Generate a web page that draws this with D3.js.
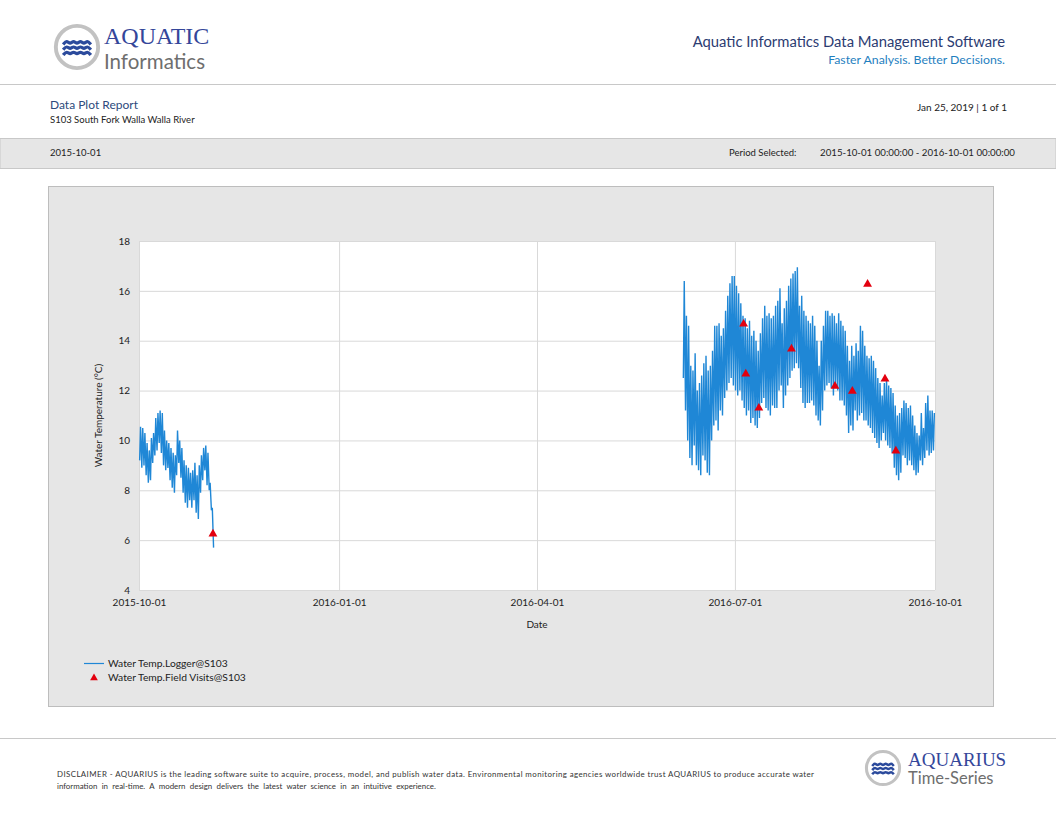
<!DOCTYPE html>
<html>
<head>
<meta charset="utf-8">
<script src="https://cdn.jsdelivr.net/npm/d3@7"></script>
<style>
  body { margin: 0; background: #fff; }
  text { font-family: Lato, "Open Sans", sans-serif; }
</style>
</head>
<body>
<div id="report"></div>
<script>
// ---- data ----
var xTickLabels = ["2015-10-01", "2016-01-01", "2016-04-01", "2016-07-01", "2016-10-01"];
var yTicks = [4, 6, 8, 10, 12, 14, 16, 18];

// logger, first deployment: daily low (morning) and daily high (afternoon)
var seg1Start = "2015-10-01";
var seg1Min = [9.2, 8.9, 9.0, 8.6, 8.3, 8.4, 9.1, 9.4, 9.6, 9.9, 9.5, 9.0, 8.8, 8.9, 8.4, 8.1, 7.9,
               8.6, 9.1, 8.5, 7.9, 7.5, 7.3, 7.6, 7.3, 7.6, 7.1, 6.85, 7.9, 8.4, 8.8, 8.2, 8.0, 7.2, 5.7];
var seg1Max = [10.55, 10.5, 10.3, 9.9, 9.6, 10.1, 10.3, 10.9, 11.1, 11.2, 11.1, 10.4, 10.0, 9.9, 9.7, 9.5, 9.4,
               10.4, 10.0, 9.7, 9.2, 9.0, 8.9, 8.7, 8.8, 9.1, 8.6, 9.0, 9.4, 9.7, 9.8, 9.5, 8.3, 7.3];

// logger, second deployment
var seg2Start = "2016-06-07";
var seg2Min = [12.5, 11.2, 10.0, 9.3, 9.0, 9.8, 9.0, 8.8, 8.6, 9.4, 9.2, 8.7, 8.6, 10.0, 10.6, 10.8, 10.4, 11.2, 11.0, 11.7,
               12.0, 12.3, 12.5, 12.2, 12.0, 11.8, 12.0, 11.6, 11.3, 11.0, 11.2, 10.7, 10.9, 10.6, 10.5, 10.9, 11.5, 11.7, 11.3, 11.2,
               11.0, 11.4, 11.3, 11.3, 12.0, 12.2, 11.3, 11.8, 12.2, 12.5, 12.8, 12.9, 13.1, 12.9, 12.1, 11.5, 11.3, 11.5, 11.5, 11.6,
               11.4, 11.0, 10.8, 10.6, 11.2, 12.0, 12.2, 12.3, 12.1, 11.8, 12.1, 12.0, 11.6, 11.6, 11.4, 11.0, 10.3, 10.6, 10.4, 11.2,
               10.8, 11.0, 11.1, 10.8, 10.8, 10.6, 10.5, 10.3, 10.1, 9.9, 9.7, 10.0, 10.3, 10.0, 9.8, 9.7, 9.5, 8.9, 8.6, 8.4,
               8.7, 9.4, 9.3, 9.0, 9.2, 9.0, 8.8, 8.6, 8.7, 9.2, 9.0, 9.3, 9.6, 9.4, 9.5, 9.6];
var seg2Max = [16.4, 15.0, 14.6, 13.0, 12.8, 13.5, 12.0, 12.3, 12.6, 13.1, 13.4, 12.8, 13.0, 13.6, 14.6, 14.6, 14.7, 14.2, 14.5, 15.2,
               15.8, 16.3, 16.6, 16.6, 16.2, 15.9, 15.5, 15.0, 14.9, 14.5, 14.8, 14.2, 14.4, 14.0, 13.6, 14.3, 14.9, 15.4, 15.0, 15.1,
               14.9, 15.0, 15.4, 15.6, 16.1, 14.7, 15.3, 15.6, 16.2, 16.5, 16.7, 16.8, 16.95, 15.4, 15.8, 15.2, 15.0, 14.8, 14.7, 15.0,
               14.6, 14.0, 13.0, 14.0, 14.6, 15.2, 15.2, 15.0, 15.1, 15.0, 14.7, 15.1, 14.8, 14.6, 14.4, 13.8, 13.2, 13.8, 13.4, 13.9,
               13.6, 14.6, 14.4, 13.8, 13.4, 13.3, 13.4, 13.2, 12.9, 12.5, 12.3, 11.8, 12.3, 12.5, 12.2, 12.1, 11.9, 11.4, 11.0, 11.1,
               11.3, 11.6, 11.5, 11.3, 11.4, 11.0, 10.6, 10.3, 10.2, 11.1, 10.5, 11.5, 11.8, 11.2, 11.2, 11.1];

// field visit readings
var fvDates = ["2015-11-04", "2016-07-05", "2016-07-06", "2016-07-12", "2016-07-27",
               "2016-08-16", "2016-08-24", "2016-08-31", "2016-09-08", "2016-09-13"];
var fvValues = [6.25, 14.67, 12.67, 11.3, 13.67, 12.18, 11.98, 16.27, 12.47, 9.58];

var disclaimer1 = "DISCLAIMER - AQUARIUS is the leading software suite to acquire, process, model, and publish water data. Environmental monitoring agencies worldwide trust AQUARIUS to produce accurate water";
var disclaimer2 = "information in real-time. A modern design delivers the latest water science in an intuitive experience.";

// ---- page ----
var W = 1056, H = 816;
var parse = d3.utcParse("%Y-%m-%d");
var lineBlue = "#1f87d6";
var fvRed = "#e3000f";

var svg = d3.select("#report").append("svg")
    .attr("width", W)
    .attr("height", H);

// round logo with waves
function logo(g, cx, cy, r) {
    g.append("circle").attr("cx", cx).attr("cy", cy).attr("r", r * 0.92)
        .attr("fill", "#fff").attr("stroke", "#c2c2c2").attr("stroke-width", r * 0.17);
    var wave = d3.line().curve(d3.curveBasis);
    [-0.2, 0.03, 0.26].forEach(function (o) {
        var pts = [];
        for (var i = 0; i <= 8; i++) {
            pts.push([cx - r * 0.6 + i * r * 0.15, cy + o * r + (i % 2 ? -0.09 : 0.09) * r]);
        }
        g.append("path").attr("d", wave(pts))
            .attr("fill", "none").attr("stroke", "#2b4a9c").attr("stroke-width", r * 0.14);
    });
}

// header
logo(svg.append("g"), 77, 47, 23);
svg.append("text").attr("x", 104).attr("y", 43.5)
    .style("font-family", "'Liberation Serif', serif").style("font-size", "24px")
    .attr("fill", "#34469a").text("AQUATIC");
svg.append("text").attr("x", 104).attr("y", 69)
    .style("font-size", "20.5px").attr("fill", "#6e6e6e").text("Informatics");

svg.append("text").attr("x", 1005).attr("y", 47).attr("text-anchor", "end")
    .style("font-size", "14.8px").attr("fill", "#2c3c72")
    .text("Aquatic Informatics Data Management Software");
svg.append("text").attr("x", 1005).attr("y", 64).attr("text-anchor", "end")
    .style("font-size", "12.3px").attr("fill", "#1f7fbf")
    .text("Faster Analysis. Better Decisions.");

svg.append("line").attr("x1", 0).attr("x2", W).attr("y1", 84.5).attr("y2", 84.5)
    .attr("stroke", "#c8c8c8");

svg.append("text").attr("x", 50).attr("y", 109)
    .style("font-size", "12px").attr("fill", "#2d4a7c").text("Data Plot Report");
svg.append("text").attr("x", 50).attr("y", 123)
    .style("font-size", "9.5px").attr("fill", "#222").text("S103 South Fork Walla Walla River");
svg.append("text").attr("x", 1007).attr("y", 111).attr("text-anchor", "end")
    .style("font-size", "10px").attr("fill", "#222").text("Jan 25, 2019 | 1 of 1");

// period band
svg.append("rect").attr("x", 0).attr("y", 138.5).attr("width", W).attr("height", 30)
    .attr("fill", "#e6e6e6").attr("stroke", "#c8c8c8");
svg.append("text").attr("x", 50).attr("y", 156)
    .style("font-size", "9.5px").attr("fill", "#222").text("2015-10-01");
svg.append("text").attr("x", 729).attr("y", 156)
    .style("font-size", "9.5px").attr("fill", "#222").text("Period Selected:");
svg.append("text").attr("x", 1015).attr("y", 156).attr("text-anchor", "end")
    .style("font-size", "9.7px").attr("fill", "#222")
    .text("2015-10-01 00:00:00 - 2016-10-01 00:00:00");

// chart panel
svg.append("rect").attr("x", 48.5).attr("y", 186.5).attr("width", 945).attr("height", 520)
    .attr("fill", "#e6e6e6").attr("stroke", "#bdbdbd");

var plot = { left: 139, right: 935, top: 241, bottom: 590 };

var xScale = d3.scaleUtc()
    .domain([parse(xTickLabels[0]), parse(xTickLabels[xTickLabels.length - 1])])
    .range([plot.left, plot.right]);
var yScale = d3.scaleLinear()
    .domain([4, 18])
    .range([plot.bottom, plot.top]);

svg.append("rect").attr("x", plot.left).attr("y", plot.top)
    .attr("width", plot.right - plot.left).attr("height", plot.bottom - plot.top)
    .attr("fill", "#fff");

// grid
var xTickDates = xTickLabels.map(parse);
svg.append("g").attr("class", "grid")
    .attr("transform", "translate(0," + plot.bottom + ")")
    .call(d3.axisBottom(xScale).tickValues(xTickDates)
        .tickSize(-(plot.bottom - plot.top)).tickFormat(""))
    .call(function (g) { g.select(".domain").remove(); })
    .selectAll("line").attr("stroke", "#d9d9d9");
svg.append("g").attr("class", "grid")
    .attr("transform", "translate(" + plot.left + ",0)")
    .call(d3.axisLeft(yScale).tickValues(yTicks)
        .tickSize(-(plot.right - plot.left)).tickFormat(""))
    .call(function (g) { g.select(".domain").remove(); })
    .selectAll("line").attr("stroke", "#d9d9d9");

// axes labels
var xAxis = svg.append("g")
    .attr("transform", "translate(0," + plot.bottom + ")")
    .call(d3.axisBottom(xScale).tickValues(xTickDates).tickSize(0).tickPadding(9)
        .tickFormat(d3.utcFormat("%Y-%m-%d")));
xAxis.select(".domain").remove();
xAxis.selectAll("text").style("font-size", "10px").attr("fill", "#222");

var yAxis = svg.append("g")
    .attr("transform", "translate(" + plot.left + ",0)")
    .call(d3.axisLeft(yScale).tickValues(yTicks).tickSize(0).tickPadding(9));
yAxis.select(".domain").remove();
yAxis.selectAll("text").style("font-size", "10px").attr("fill", "#222");

svg.append("text").attr("x", 537).attr("y", 628).attr("text-anchor", "middle")
    .style("font-size", "10px").attr("fill", "#222").text("Date");
svg.append("text").attr("transform", "translate(102," + (plot.top + plot.bottom) / 2 + ") rotate(-90)")
    .attr("text-anchor", "middle").style("font-size", "10px").attr("fill", "#222")
    .text("Water Temperature (°C)");

// logger series: low reading in the morning, high in the afternoon
function buildSeries(start, mins, maxs) {
    var t0 = parse(start);
    var pts = [];
    mins.forEach(function (v, i) {
        pts.push({ t: d3.utcHour.offset(d3.utcDay.offset(t0, i), 7), v: v });
        if (i < maxs.length) {
            pts.push({ t: d3.utcHour.offset(d3.utcDay.offset(t0, i), 17), v: maxs[i] });
        }
    });
    return pts;
}
var series = [buildSeries(seg1Start, seg1Min, seg1Max), buildSeries(seg2Start, seg2Min, seg2Max)];

var line = d3.line()
    .x(function (d) { return xScale(d.t); })
    .y(function (d) { return yScale(d.v); });

svg.append("g").selectAll("path")
    .data(series)
    .enter().append("path")
    .attr("d", line)
    .attr("fill", "none")
    .attr("stroke", lineBlue)
    .attr("stroke-width", 1.4);

// field visits
var tri = d3.symbol().type(d3.symbolTriangle).size(34);
svg.append("g").selectAll("path")
    .data(fvDates.map(function (d, i) { return { t: parse(d), v: fvValues[i] }; }))
    .enter().append("path")
    .attr("d", tri)
    .attr("transform", function (d) { return "translate(" + xScale(d.t) + "," + yScale(d.v) + ")"; })
    .attr("fill", fvRed);

// legend
svg.append("line").attr("x1", 84).attr("x2", 104).attr("y1", 663.5).attr("y2", 663.5)
    .attr("stroke", lineBlue).attr("stroke-width", 1.2);
svg.append("text").attr("x", 108).attr("y", 667)
    .style("font-size", "10.3px").attr("fill", "#222").text("Water Temp.Logger@S103");
svg.append("path").attr("d", d3.symbol().type(d3.symbolTriangle).size(26)())
    .attr("transform", "translate(94,678)").attr("fill", fvRed);
svg.append("text").attr("x", 108).attr("y", 681)
    .style("font-size", "10.3px").attr("fill", "#222").text("Water Temp.Field Visits@S103");

// footer
svg.append("line").attr("x1", 0).attr("x2", W).attr("y1", 738.5).attr("y2", 738.5)
    .attr("stroke", "#c8c8c8");
svg.append("text").attr("x", 57).attr("y", 777)
    .attr("textLength", 757).attr("lengthAdjust", "spacing")
    .style("font-size", "7.9px").attr("fill", "#333").text(disclaimer1);
svg.append("text").attr("x", 57).attr("y", 789)
    .style("font-size", "7.9px").style("word-spacing", "2.3px").attr("fill", "#333").text(disclaimer2);

logo(svg.append("g"), 883, 768, 18);
svg.append("text").attr("x", 908).attr("y", 766)
    .style("font-family", "'Liberation Serif', serif").style("font-size", "19px")
    .attr("fill", "#34469a").text("AQUARIUS");
svg.append("text").attr("x", 908).attr("y", 784)
    .style("font-size", "16.5px").attr("fill", "#6e6e6e").text("Time-Series");
</script>
</body>
</html>
